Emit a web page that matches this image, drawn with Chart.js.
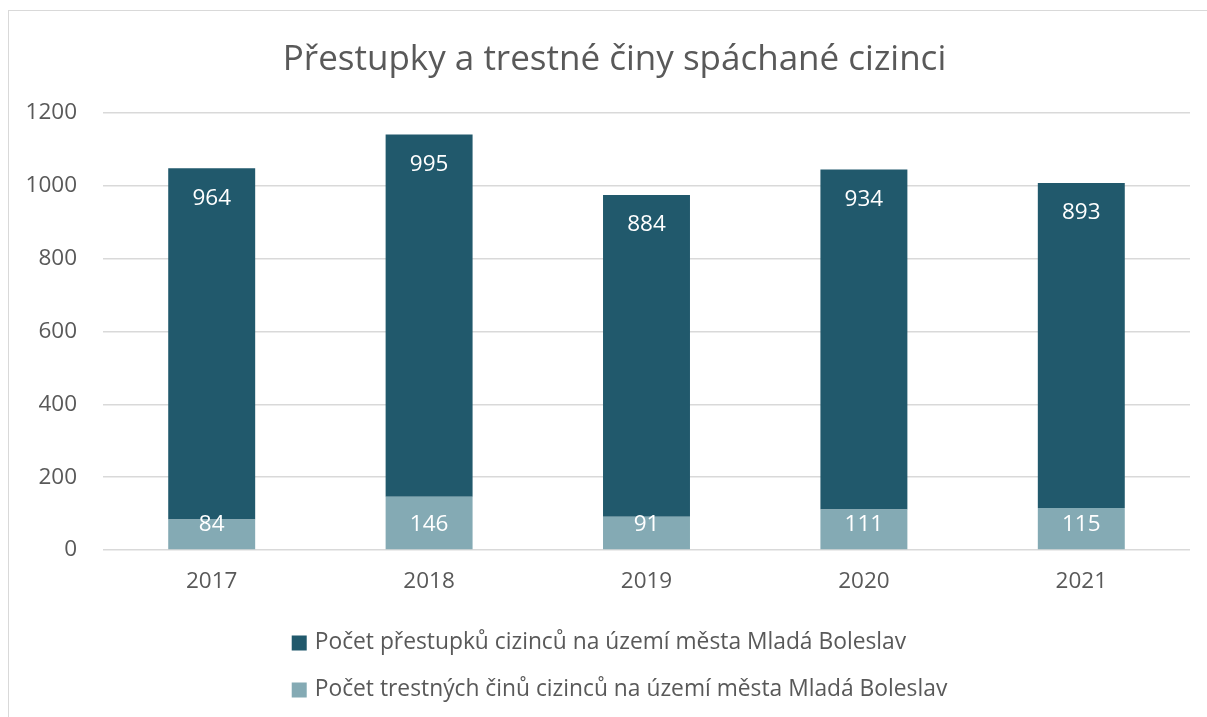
<!DOCTYPE html>
<html>
<head>
<meta charset="utf-8">
<script src="https://cdn.jsdelivr.net/npm/chart.js@4"></script>
<style>
    html, body { margin: 0; padding: 0; background: #fff; overflow: hidden; }
    #wrap {
        position: absolute; left: 8px; top: 10px;
        width: 1211px; height: 720px;
        border: 1px solid #d9d9d9;
        background: #fff;
    }
    #chart { display: block; }
</style>
</head>
<body>
<div id="wrap"><canvas id="chart" width="1211" height="706"></canvas></div>
<script>
const years = ["2017", "2018", "2019", "2020", "2021"];
const prestupky = [964, 995, 884, 934, 893];
const trestneCiny = [84, 146, 91, 111, 115];
const yTicks = [0, 200, 400, 600, 800, 1000, 1200];

const titleText = "Přestupky a trestné činy spáchané cizinci";
const labelPrestupky = "Počet přestupků cizinců na území města Mladá Boleslav";
const labelCiny = "Počet trestných činů cizinců na území města Mladá Boleslav";

const darkColor = "#21596c";
const lightColor = "#84aab4";
const textColor = "#595959";
const fontFamily = "'Open Sans', 'Noto Sans', sans-serif";

// popisky hodnot uvnitř sloupců (jako v Excelu)
const valueLabels = {
    id: "valueLabels",
    afterDatasetsDraw(chart) {
        const ctx = chart.ctx;
        ctx.save();
        ctx.fillStyle = "#ffffff";
        ctx.font = "22.5px " + fontFamily;
        ctx.textAlign = "center";
        ctx.textBaseline = "middle";
        chart.data.datasets.forEach((ds, i) => {
            chart.getDatasetMeta(i).data.forEach((bar, j) => {
                const y = ds.inside === "base" ? bar.base - 25 : bar.y + 30;
                ctx.fillText(String(ds.data[j]), bar.x, y);
            });
        });
        ctx.restore();
    }
};

// nadpis a legenda kreslené ručně (nadpis na středu celého rámečku)
const titleAndLegend = {
    id: "titleAndLegend",
    afterDraw(chart) {
        const ctx = chart.ctx;
        const cx = chart.width / 2;
        ctx.save();
        ctx.fillStyle = textColor;
        ctx.font = "35px " + fontFamily;
        ctx.textAlign = "center";
        ctx.textBaseline = "middle";
        ctx.fillText(titleText, cx, 49);

        const items = [chart.data.datasets[1], chart.data.datasets[0]];
        ctx.font = "22.8px " + fontFamily;
        ctx.textAlign = "left";
        const box = 15, gap = 8;
        const maxW = Math.max(...items.map(d => ctx.measureText(d.label).width));
        const startX = cx - (box + gap + maxW) / 2 + 5;
        let y = chart.chartArea.bottom + 93;
        items.forEach(d => {
            ctx.fillStyle = d.backgroundColor;
            ctx.fillRect(startX, y - box / 2, box, box);
            ctx.fillStyle = textColor;
            ctx.fillText(d.label, startX + box + gap, y);
            y += 47;
        });
        ctx.restore();
    }
};

new Chart(document.getElementById("chart"), {
    type: "bar",
    data: {
        labels: years,
        datasets: [
            {
                label: labelCiny,
                data: trestneCiny,
                backgroundColor: lightColor,
                inside: "base"
            },
            {
                label: labelPrestupky,
                data: prestupky,
                backgroundColor: darkColor,
                inside: "end"
            }
        ]
    },
    options: {
        responsive: false,
        animation: false,
        categoryPercentage: 1,
        barPercentage: 0.4,
        layout: { padding: { left: 0, right: 30, top: 102, bottom: 112 } },
        plugins: {
            legend: { display: false },
            tooltip: { enabled: false },
            title: { display: false }
        },
        scales: {
            x: {
                stacked: true,
                grid: { display: false },
                border: { display: false },
                ticks: { color: textColor, font: { family: fontFamily, size: 22.5 }, padding: 10 }
            },
            y: {
                stacked: true,
                min: yTicks[0],
                max: yTicks[yTicks.length - 1],
                afterBuildTicks(axis) {
                    axis.ticks = yTicks.map(v => ({ value: v }));
                },
                afterFit(axis) {
                    axis.width = 94;
                },
                grid: { color: "#d9d9d9", lineWidth: 1.5, drawTicks: false },
                border: { display: false },
                ticks: {
                    color: textColor,
                    font: { family: fontFamily, size: 22.5 },
                    padding: 26,
                    callback: v => String(v)
                }
            }
        }
    },
    plugins: [valueLabels, titleAndLegend]
});
</script>
</body>
</html>
